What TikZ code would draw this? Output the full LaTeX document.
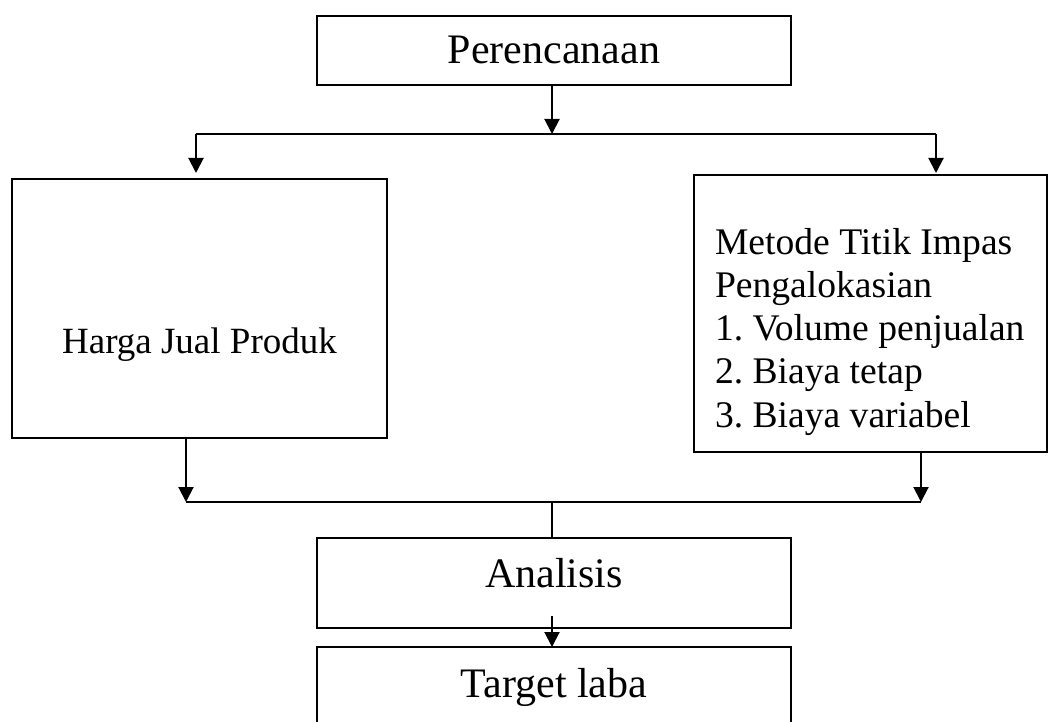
\documentclass[tikz,border=0pt]{standalone}
\usepackage{fontspec}
\setmainfont{Liberation Serif}
\usetikzlibrary{arrows.meta}
\frenchspacing
\begin{document}
\begin{tikzpicture}[x=1pt,y=-1pt,
  box/.style={draw, line width=2pt, inner sep=0pt, outer sep=0pt, anchor=north west},
  lbl/.style={inner sep=0pt, outer sep=0pt, anchor=base},
  big/.style={font=\fontsize{42}{50}\selectfont},
  mid/.style={font=\fontsize{37}{43.25}\selectfont},
  rmid/.style={font=\fontsize{37.6}{43.25}\selectfont},
  conn/.style={line width=2pt},
  arr/.style={conn, -{Triangle[width=15pt,length=15pt]}}]
\clip (0,0) rectangle (1049,722);
% boxes
\node[box, minimum width=474pt, minimum height=69pt]  (plan)     at (317,16)  {};
\node[box, minimum width=375pt, minimum height=259pt] (harga)    at (12,179)  {};
\node[box, minimum width=353pt, minimum height=277pt] (metode)   at (694,175) {};
\node[box, minimum width=474pt, minimum height=90pt]  (analisis) at (317,538) {};
\node[box, minimum width=474pt, minimum height=100pt] (target)   at (317,647) {};
% texts
\node[lbl, big] (tplan) at (554,64) {Perencanaan};
\node[lbl, mid] (tharga) at (199.5,353) {Harga Jual Produk};
\node[lbl, rmid, anchor=base west, align=left] (tmetode) at (715,427)
  {Metode Titik Impas\\Pengalokasian\\1. Volume penjualan\\2. Biaya tetap\\3. Biaya variabel};
\node[lbl, big] (tanalisis) at (554,587) {Analisis};
\node[lbl, big] (ttarget) at (554,697) {Target laba};
% junctions
\coordinate (jtop) at (552,134);
\coordinate (jl) at (196,134);
\coordinate (jr) at (936,134);
\coordinate (bl) at (186,502);
\coordinate (br) at (921,502);
\coordinate (jbot) at (552,502);
\coordinate (a1) at (552,616);
% connectors
\draw[arr] (plan.south -| jtop) -- (jtop);
\draw[conn] (jl) -- (jr);
\draw[arr, shorten >=6pt] (jl) -- (jl |- harga.north);
\draw[arr, shorten >=2pt] (jr) -- (jr |- metode.north);
\draw[arr] (harga.south -| bl) -- (bl);
\draw[arr] (metode.south -| br) -- (br);
\draw[conn] (bl) -- (br);
\draw[conn] (jbot) -- (analisis.north -| jbot);
\draw[arr] (a1) -- (target.north -| a1);
\end{tikzpicture}
\end{document}
